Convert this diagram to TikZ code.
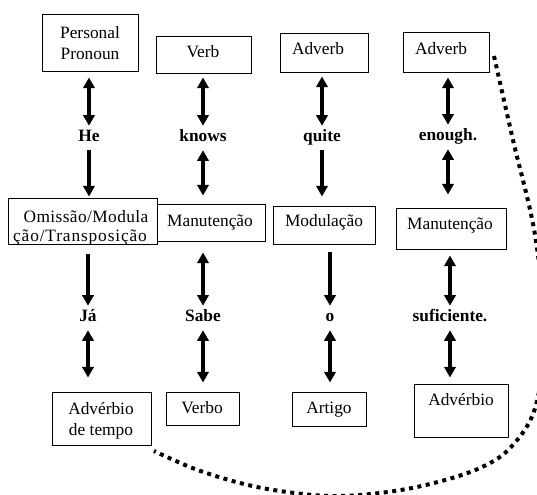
\documentclass[tikz,border=0pt]{standalone}
\usepackage{fontspec}
\setmainfont{Liberation Serif}
\usetikzlibrary{arrows.meta,calc,fit}

\begin{document}
\begin{tikzpicture}[x=0.75pt,y=-0.75pt,
  every node/.style={font=\fontsize{13pt}{15pt}\selectfont},
  box/.style={draw, line width=0.75pt, inner sep=0pt},
  txt/.style={anchor=base, inner sep=0pt},
  word/.style={font=\fontsize{13pt}{15pt}\selectfont\bfseries, inner sep=0pt,
               text height=9pt, text depth=3pt, minimum height=18pt},
  tipA/.tip={Triangle[width=8.5pt,length=8pt]},
  link/.style={line width=2.6pt, -tipA},
  dbl/.style={line width=2.6pt, tipA-tipA},
  dotline/.style={line width=3pt, dash pattern=on 3pt off 3.4pt}
]
\useasboundingbox (0,0) rectangle (537,495);

% English row of category boxes
\node[box, fit={(42,15) (138,72)}]   (pp)   {};
\node[txt] (pp1) at (90,39) {Personal};
\node[txt] (pp2) at (90,60) {Pronoun};
\node[box, fit={(156,37) (251,74)}]  (verb) {};
\node[txt] (verbt) at (203,58) {Verb};
\node[box, fit={(280,34) (368,73)}]  (adv1) {};
\node[txt] (adv1t) at (318,55) {Adverb};
\node[box, fit={(403,33) (489,73)}]  (adv2) {};
\node[txt] (adv2t) at (441,55) {Adverb};

% source words
\node[word] (he)     at (89,138)  {He};
\node[word] (knows)  at (203,138) {knows};
\node[word] (quite)  at (322,138) {quite};
\node[word] (enough) at (448,137) {enough.};

% translation procedures
\node[box, fit={(8,199) (157,245)}]   (om)   {};
\begin{scope}
  \clip (om.south west) rectangle (om.north east);
  \node[txt] (om1) at (86,223)
    {\addfontfeature{LetterSpace=2.4}Omissão/Modula};
  \node[txt] (om2) at (80,242)
    {\addfontfeature{LetterSpace=5}ção/Transposição};
\end{scope}
\node[box, fit={(157,205) (265,242)}] (man1) {};
\node[txt] (man1t) at (210,227) {Manutenção};
\node[box, fit={(273,207) (375,245)}] (mod)  {};
\node[txt] (modt) at (324,227) {Modulação};
\node[box, fit={(396,209) (506,250)}] (man2) {};
\node[txt] (man2t) at (450,230) {Manutenção};

% target words
\node[word] (ja)   at (88,318)  {Já};
\node[word] (sabe) at (203,318) {Sabe};
\node[word] (o)    at (330,318) {o};
\node[word] (suf)  at (450,318) {suficiente.};

% Portuguese row of category boxes
\node[box, fit={(52,393) (151,446)}]  (adt)   {};
\node[txt] (adt1) at (101,415) {Advérbio};
\node[txt] (adt2) at (101,436) {de tempo};
\node[box, fit={(166,393) (239,426)}] (verbo) {};
\node[txt] (verbot) at (202,414) {Verbo};
\node[box, fit={(292,393) (366,427)}] (art)   {};
\node[txt] (artt) at (329,414) {Artigo};
\node[box, fit={(414,385) (508,438)}] (advb)  {};
\node[txt] (advbt) at (461,406) {Advérbio};

% upper connectors
\draw[dbl]  ($(pp.south -| he)+(0,5)$)        -- (he);
\draw[link] (he)     -- ($(om.north -| he)+(0,-2)$);
\draw[dbl]  ($(verb.south -| knows)+(0,3)$)   -- (knows);
\draw[dbl]  (knows)  -- ($(man1.north -| knows)+(0,-9)$);
\draw[dbl]  ($(adv1.south -| quite)+(0,3)$)   -- (quite);
\draw[link] (quite)  -- ($(mod.north -| quite)+(0,-10)$);
\draw[dbl]  ($(adv2.south -| enough)+(0,4)$)  -- (enough);
\draw[dbl]  (enough) -- ($(man2.north -| enough)+(0,-14)$);

% lower connectors
\draw[link] ($(om.south -| ja)+(0,9)$)        -- (ja);
\draw[dbl]  (ja)     -- ($(adt.north -| ja)+(0,-15)$);
\draw[dbl]  ($(man1.south -| sabe)+(0,10)$)   -- (sabe);
\draw[dbl]  (sabe)   -- ($(verbo.north -| sabe)+(0,-10)$);
\draw[link] ($(mod.south -| o)+(0,7)$)        -- (o);
\draw[dbl]  (o)      -- ($(art.north -| o)+(0,-10)$);
\draw[dbl]  ($(man2.south -| suf)+(0,5)$)     -- (suf);
\draw[dbl]  (suf)    -- ($(advb.north -| suf)+(0,-7)$);

% dotted arc tying the last adverb to the time adverb
\coordinate (cs) at (494,56);
\coordinate (ce) at (154,451);
\begin{scope}
  \clip (0,0) rectangle (537,495);
  \draw[dotline] plot[smooth, tension=0.6] coordinates
    {(cs) (513,140) (535,235) (544,330) (536,405) (512,446) (480,468)
     (430,484) (380,493) (330,496) (280,491) (240,483) (195,469) (ce)};
\end{scope}
\end{tikzpicture}
\end{document}
